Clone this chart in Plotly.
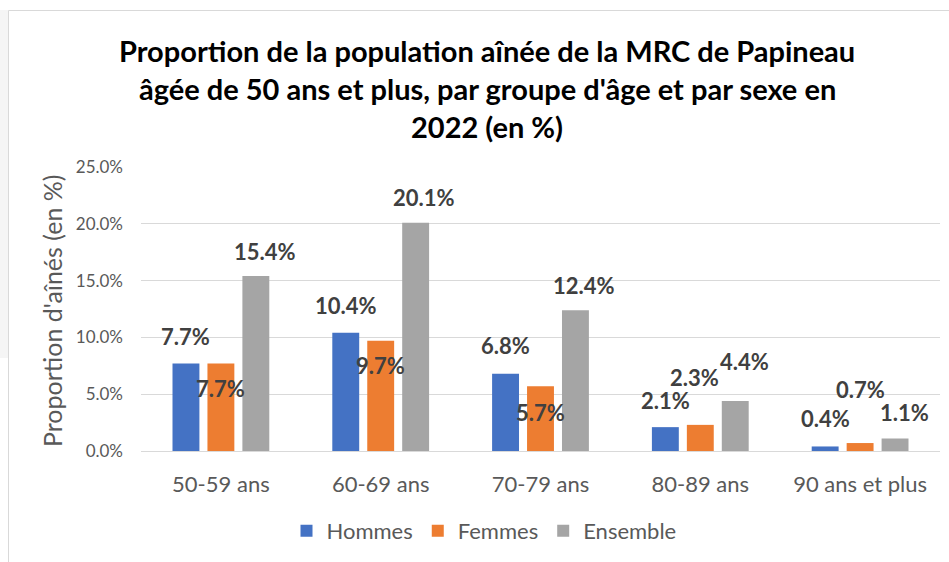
import plotly.graph_objects as go

categories = ["50-59 ans", "60-69 ans", "70-79 ans", "80-89 ans", "90 ans et plus"]
hommes = [7.7, 10.4, 6.8, 2.1, 0.4]
femmes = [7.7, 9.7, 5.7, 2.3, 0.7]
ensemble = [15.4, 20.1, 12.4, 4.4, 1.1]
series_names = ["Hommes", "Femmes", "Ensemble"]
title_lines = [
    "Proportion de la population aînée de la MRC de Papineau",
    "âgée de 50 ans et plus, par groupe d'âge et par sexe en",
    "2022 (en %)",
]
y_title = "Proportion d'aînés (en %)"

# label placement offsets in pixels (dx, dy) relative to bar top-centre (style only)
label_dx = [
    [0, 0, 0, 0, 0],
    [0, 0, 0, -6, 0],
    [9, 8, 9, 9, 9],
]
label_dy = [
    [27, 27, 28, 27, 28],
    [-25, -25, -26, 47, 54],
    [25, 25, 25, 40, 26],
]

colors = ["#4472C4", "#ED7D31", "#A5A5A5"]
FONT = "Lato"
W, H = 949, 562
ML, MR, MT, MB = 141, 9, 167, 111
PW = W - ML - MR
PH = H - MT - MB
BARGAP = 0.344
slot = PW / len(categories) * (1 - BARGAP) / 3

def px_x(p):
    return (p - ML) / PW

def px_y(p):
    return (H - MB - p) / PH

fig = go.Figure()
all_vals = [hommes, femmes, ensemble]
for name, vals, c in zip(series_names, all_vals, colors):
    fig.add_trace(go.Bar(x=categories, y=vals, name=name, marker_color=c,
                         marker_line_width=0))

annotations = []
for s, vals in enumerate(all_vals):
    for i, v in enumerate(vals):
        annotations.append(dict(
            x=categories[i], y=v, xref="x", yref="y",
            text=f"<b>{v:.1f}%</b>", showarrow=False,
            xshift=(s - 1) * slot + label_dx[s][i], yshift=label_dy[s][i],
            yanchor="middle", xanchor="center",
            font=dict(family=FONT, size=22, color="#404040"),
        ))

for line, py in zip(title_lines, [50, 88, 126]):
    annotations.append(dict(
        x=px_x(487), y=px_y(py), xref="paper", yref="paper", text=f"<b>{line}</b>",
        showarrow=False, xanchor="center", yanchor="middle",
        font=dict(family=FONT, size=29, color="#000000"),
    ))

annotations.append(dict(
    x=px_x(52), y=px_y(311), xref="paper", yref="paper", text=y_title,
    showarrow=False, textangle=-90, xanchor="center", yanchor="middle",
    font=dict(family=FONT, size=25, color="#595959"),
))

shapes = [
    dict(type="rect", xref="paper", yref="paper", x0=px_x(0), x1=px_x(8),
         y0=px_y(358), y1=px_y(10), fillcolor="#f5f5f5", line_width=0, layer="below"),
    dict(type="line", xref="paper", yref="paper", x0=px_x(8.5), x1=px_x(8.5),
         y0=px_y(562), y1=px_y(10.5), line=dict(color="#d9d9d9", width=1)),
    dict(type="line", xref="paper", yref="paper", x0=px_x(8.5), x1=px_x(949),
         y0=px_y(10.5), y1=px_y(10.5), line=dict(color="#d9d9d9", width=1)),
]

fig.update_layout(
    width=W, height=H,
    margin=dict(l=ML, r=MR, t=MT, b=MB, pad=0, autoexpand=False),
    paper_bgcolor="white", plot_bgcolor="white",
    barmode="group", bargap=BARGAP, bargroupgap=0.23,
    font=dict(family=FONT, color="#595959"),
    showlegend=True,
    legend=dict(orientation="h", x=px_x(484), y=px_y(531), xanchor="center",
                yanchor="middle", font=dict(family=FONT, size=22, color="#595959"),
                itemwidth=30, traceorder="normal"),
    annotations=annotations,
    shapes=shapes,
)
fig.update_yaxes(range=[0, 25], dtick=5, tickformat=".1f", ticksuffix="%",
                 showgrid=True, gridcolor="#d9d9d9", gridwidth=1,
                 zeroline=False, showline=False, ticks="",
                 ticklabelstandoff=17,
                 tickfont=dict(family=FONT, size=17, color="#595959"))
fig.update_xaxes(showline=True, linecolor="#d9d9d9", linewidth=1, ticks="",
                 ticklabelstandoff=14,
                 tickfont=dict(family=FONT, size=22, color="#595959"))

fig.write_html("out.html", config={"displayModeBar": False},
               post_script="document.body.style.margin='0px';document.body.style.overflow='hidden';")
